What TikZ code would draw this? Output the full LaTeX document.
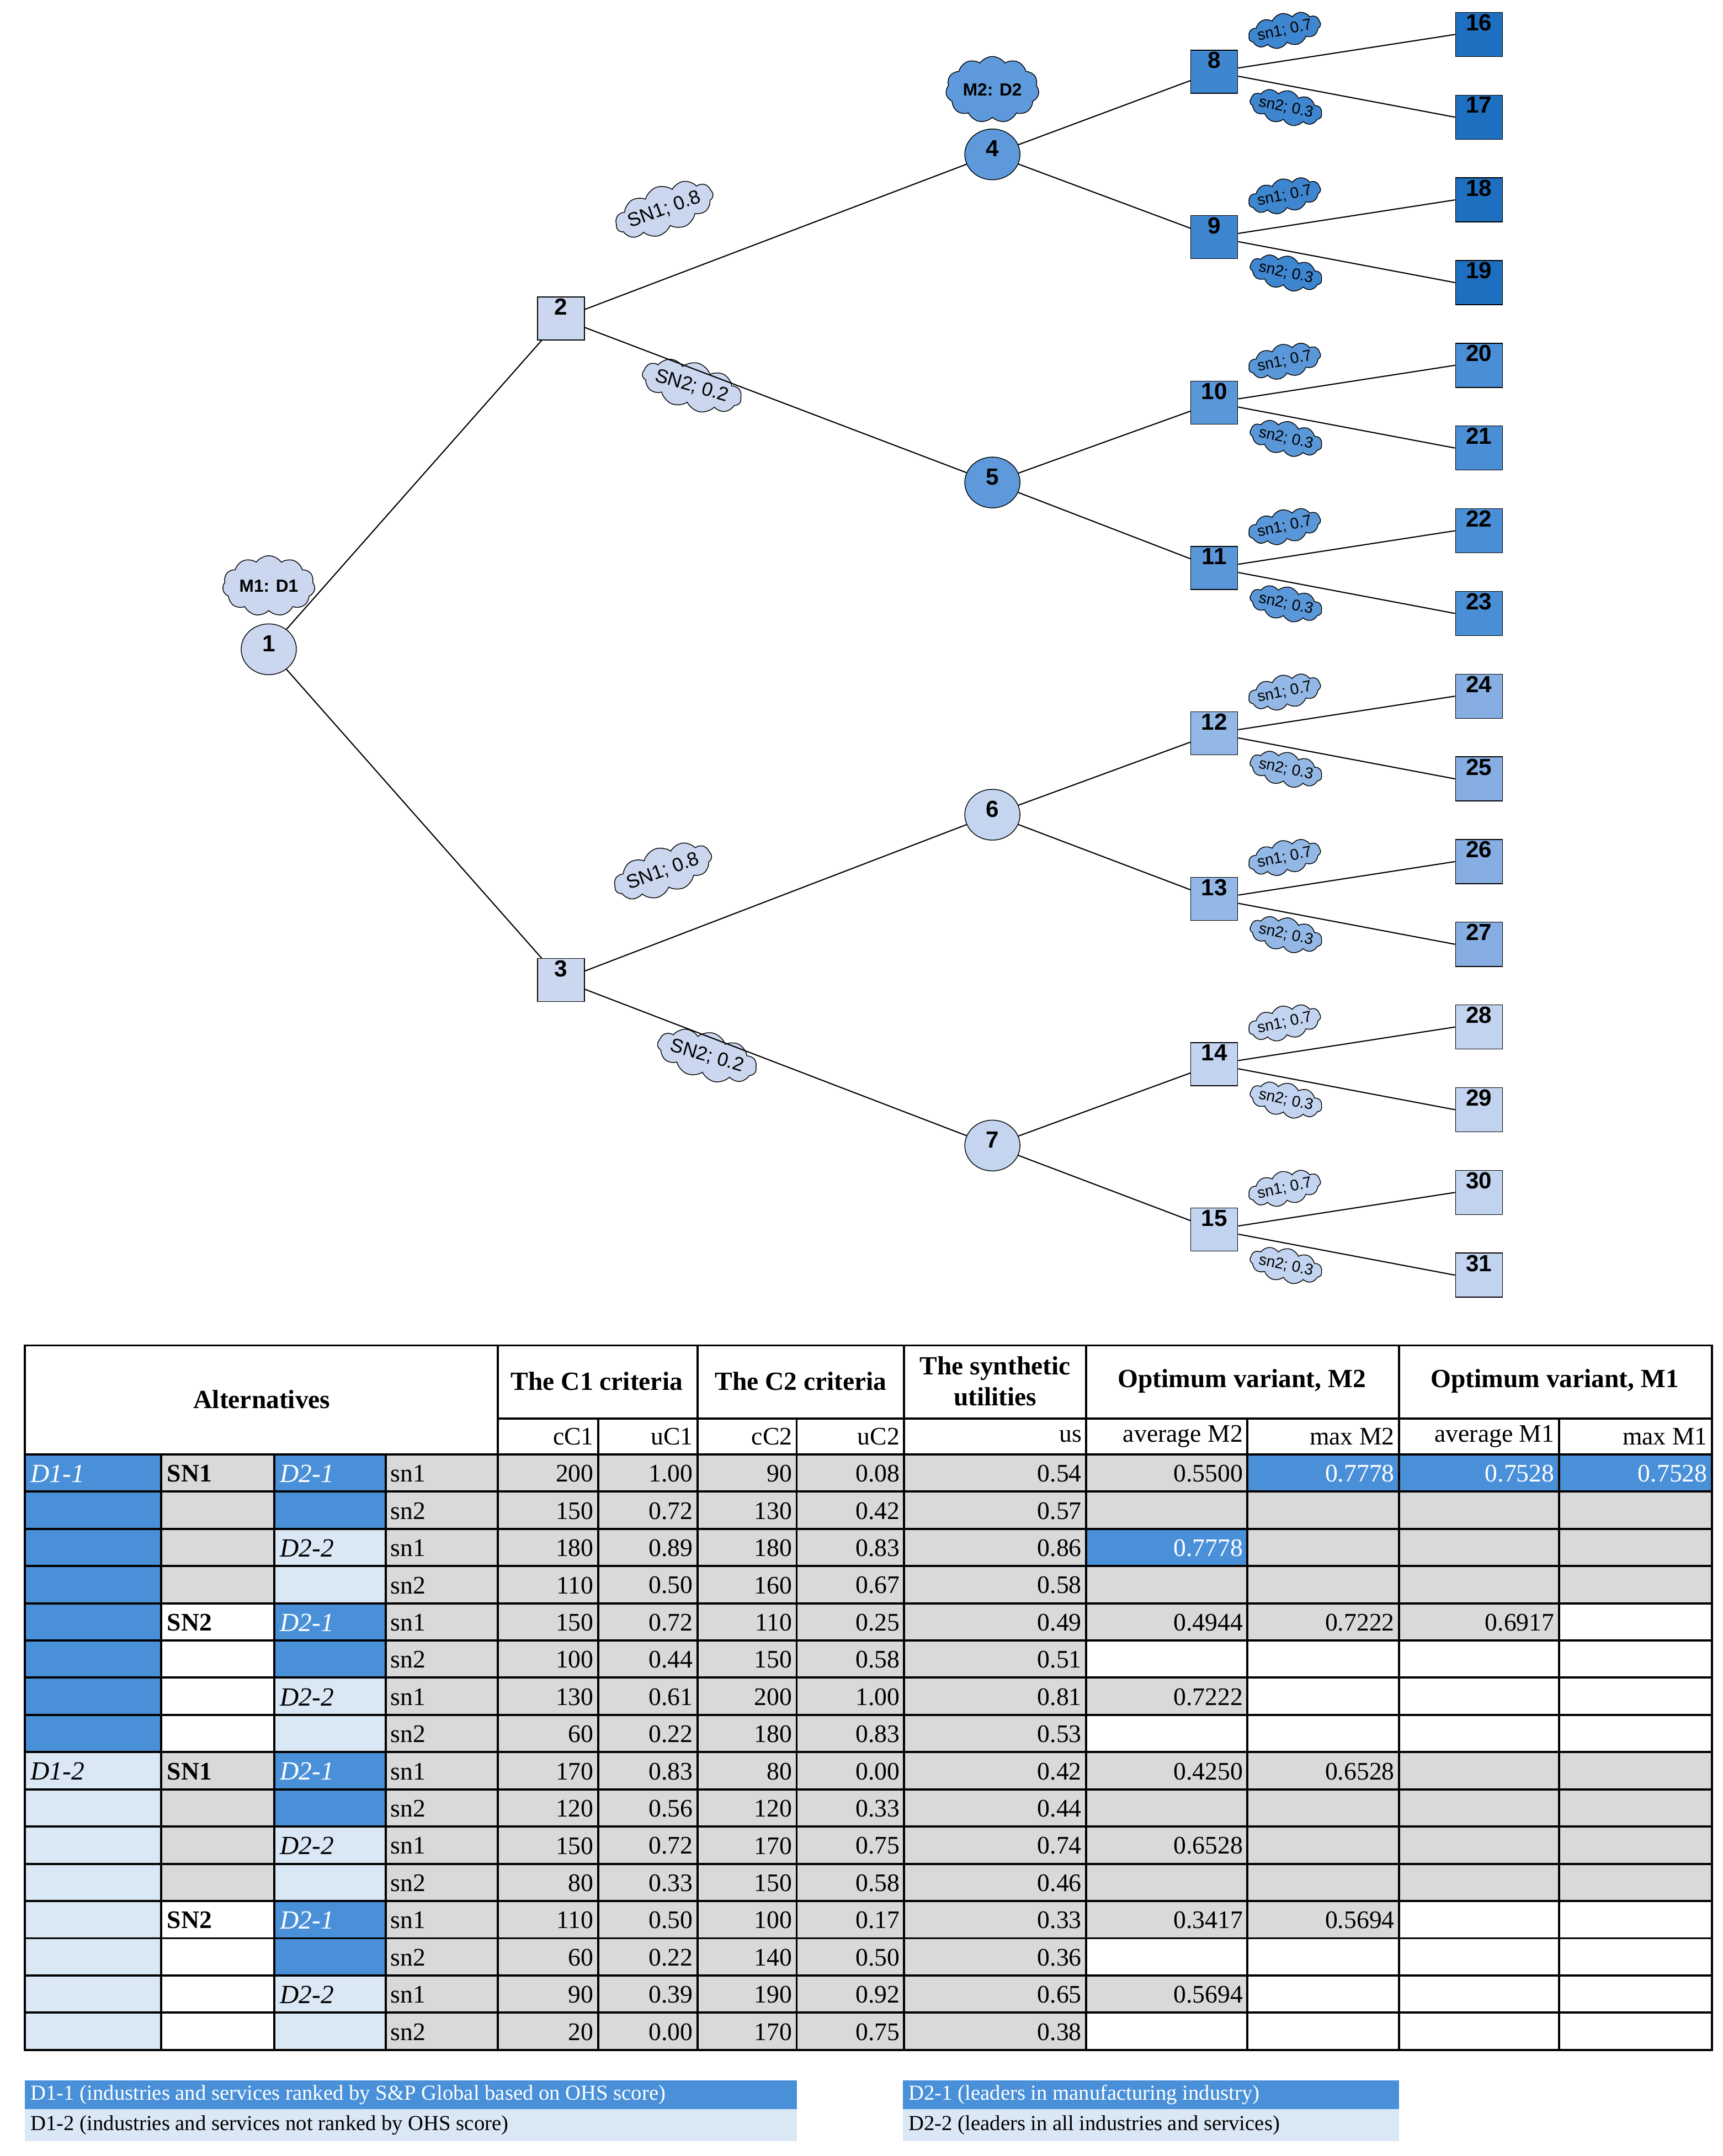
\documentclass[tikz,border=0pt]{standalone}
\usepackage{fontspec}
\setmainfont{Liberation Serif}
\newfontfamily\tsans{Liberation Sans}
\usetikzlibrary{shapes.geometric,shapes.symbols}
\definecolor{bA}{HTML}{4A90D9}
\definecolor{bL}{HTML}{DAE7F5}
\definecolor{gC}{HTML}{D9D9D9}
\definecolor{lv1}{HTML}{1F6FC0}
\definecolor{lv2}{HTML}{4A8ED6}
\definecolor{lv3}{HTML}{86AEE2}
\definecolor{lv4}{HTML}{C2D3EF}
\definecolor{sq1}{HTML}{3F86D0}
\definecolor{sq2}{HTML}{5A97D9}
\definecolor{sq3}{HTML}{93B8E6}
\definecolor{sq4}{HTML}{C3D4F0}
\definecolor{cirA}{HTML}{5E9ADB}
\definecolor{cirB}{HTML}{C5D5EF}
\definecolor{base}{HTML}{CBD7EF}
\tikzset{
 sq/.style={draw, thin, minimum width=0.85cm, minimum height=0.78cm, inner sep=0pt},
 lf/.style={draw, thin, minimum width=0.85cm, minimum height=0.8cm, inner sep=0pt},
 ci/.style={draw, thin, ellipse, minimum width=1.0cm, minimum height=0.92cm, inner sep=0pt},
 num/.style={font=\tsans\bfseries\fontsize{12}{12}\selectfont, anchor=north, inner sep=1pt},
 cl/.style={cloud, cloud puffs=11, cloud puff arc=110, aspect=3, draw, thin, inner sep=-1pt, font=\tsans\fontsize{8}{8}\selectfont},
 edge/.style={line width=0.6pt},
 tv/.style={anchor=east, inner sep=0pt, font=\fontsize{13}{13}\selectfont},
 tl/.style={anchor=west, inner sep=0pt, font=\fontsize{13}{13}\selectfont},
 th/.style={inner sep=0pt, font=\bfseries\fontsize{13.5}{16}\selectfont, align=center},
 it/.style={anchor=west, inner sep=0pt, font=\itshape\fontsize{13.5}{13.5}\selectfont},
 grid/.style={line width=1.1pt},
 lg/.style={anchor=west, inner sep=0pt, font=\fontsize{11}{11}\selectfont}
}
\begin{document}
\begin{tikzpicture}[x=0.02497cm,y=-0.02497cm]
\useasboundingbox (0,0) rectangle (1250,1564);
% ---------- tree ----------
\node[ci, fill=base] (n1) at (195,471) {}; \node[num] at (n1.north) [yshift=-5pt] {1};
\node[sq, fill=base] (n2) at (407,231) {}; \node[num] at (n2.north) {2};
\node[sq, fill=base] (n3) at (407,711) {}; \node[num] at (n3.north) {3};
\node[ci, fill=cirA] (n4) at (720,112) {}; \node[num] at (n4.north) [yshift=-5pt] {4};
\node[ci, fill=cirA] (n5) at (720,350) {}; \node[num] at (n5.north) [yshift=-5pt] {5};
\node[ci, fill=cirB] (n6) at (720,591) {}; \node[num] at (n6.north) [yshift=-5pt] {6};
\node[ci, fill=cirB] (n7) at (720,831) {}; \node[num] at (n7.north) [yshift=-5pt] {7};
\foreach \i/\c in {8/sq1,9/sq1,10/sq2,11/sq2,12/sq3,13/sq3,14/sq4,15/sq4}{
  \node[sq, fill=\c] (n\i) at (881,{52+120*(\i-8)}) {};
  \node[num] (t\i) at (n\i.north) {\i};
  \node[cl, fill=\c, rotate=12] (cu\i) at (932,{52+120*(\i-8)-30}) {sn1; 0.7};
  \node[cl, fill=\c, rotate=-12] (cd\i) at (933,{52+120*(\i-8)+26}) {sn2; 0.3};
}
\foreach \i/\c in {16/lv1,17/lv1,18/lv1,19/lv1,20/lv2,21/lv2,22/lv2,23/lv2,24/lv3,25/lv3,26/lv3,27/lv3,28/lv4,29/lv4,30/lv4,31/lv4}{
  \node[lf, fill=\c] (n\i) at (1073,{25+60*(\i-16)}) {};
  \node[num] (t\i) at (n\i.north) {\i};
}
\node[cl, fill=base, font=\tsans\bfseries\fontsize{9}{9}\selectfont, aspect=1.8, inner sep=1pt] (m1) at (195,425) {M1: D1};
\node[cl, fill=cirA, font=\tsans\bfseries\fontsize{9}{9}\selectfont, aspect=1.6, minimum height=0.8cm, inner sep=1pt] (m2) at (720,65) {M2: D2};
\node[cl, fill=base, rotate=20, font=\tsans\fontsize{10}{10}\selectfont] (s1) at (482,152) {SN1; 0.8};
\node[cl, fill=base, rotate=-16, font=\tsans\fontsize{10}{10}\selectfont] (s2) at (502,280) {SN2; 0.2};
\node[cl, fill=base, rotate=20, font=\tsans\fontsize{10}{10}\selectfont] (s3) at (481,632) {SN1; 0.8};
\node[cl, fill=base, rotate=-16, font=\tsans\fontsize{10}{10}\selectfont] (s4) at (513,766) {SN2; 0.2};
\draw[edge] (n1) -- (n2); \draw[edge] (n1) -- (n3);
\draw[edge] (n2) -- (n4); \draw[edge] (n2) -- (n5);
\draw[edge] (n3) -- (n6); \draw[edge] (n3) -- (n7);
\draw[edge] (n4) -- (n8); \draw[edge] (n4) -- (n9);
\draw[edge] (n5) -- (n10); \draw[edge] (n5) -- (n11);
\draw[edge] (n6) -- (n12); \draw[edge] (n6) -- (n13);
\draw[edge] (n7) -- (n14); \draw[edge] (n7) -- (n15);
\foreach \i [evaluate=\i as \a using int(2*\i), evaluate=\i as \b using int(2*\i+1)] in {8,...,15}{
  \draw[edge] (n\i) -- (n\a.west); \draw[edge] (n\i) -- (n\b.west);
}
% ---------- table fills ----------
\fill[gC] (280,1055) rectangle (788,1487);
\fill[gC] (117,1055) rectangle (199,1163);
\fill[gC] (117,1271) rectangle (199,1379);
\fill[gC] (788,1055) rectangle (1242,1163);
\fill[gC] (788,1271) rectangle (1242,1379);
\fill[gC] (788,1163) rectangle (1131,1190);
\fill[gC] (788,1217) rectangle (905,1244);
\fill[gC] (788,1379) rectangle (1015,1406);
\fill[gC] (788,1433) rectangle (905,1460);
\fill[bA] (905,1055) rectangle (1242,1082);
\fill[bA] (788,1109) rectangle (905,1136);
\fill[bA] (18,1055) rectangle (117,1271);
\fill[bL] (18,1271) rectangle (117,1487);
\foreach \g in {0,2,4,6}{
  \fill[bA] (199,{1055+54*\g}) rectangle (280,{1055+54*\g+54});
  \fill[bL] (199,{1055+54*\g+54}) rectangle (280,{1055+54*\g+108});
}
% ---------- grid ----------
\draw[grid] (18,976) rectangle (1242,1487);
\draw[grid] (361,1029) -- (1242,1029);
\foreach \k in {0,...,15}{ \draw[grid] (18,{1055+27*\k}) -- (1242,{1055+27*\k}); }
\foreach \x in {117,199,280}{ \draw[grid] (\x,1055) -- (\x,1487); }
\foreach \x in {361,506,656,788,1015}{ \draw[grid] (\x,976) -- (\x,1487); }
\foreach \x in {434,578,905,1131}{ \draw[grid] (\x,1029) -- (\x,1487); }
% ---------- headers ----------
\node[th] (hA) at (190,1015) {Alternatives};
\node[th] (hC1) at (433,1002) {The C1 criteria};
\node[th] (hC2) at (581,1002) {The C2 criteria};
\node[th] (hS) at (722,1002) {The synthetic\\utilities};
\node[th] (hM2) at (901,1002) {Optimum variant, M2};
\node[th] (hM1) at (1128,1002) {Optimum variant, M1};
\foreach \x/\t [count=\j] in {431/cC1,503/uC1,575/cC2,653/uC2,785/us,902/average M2,1012/max M2,1128/average M1,1239/max M1}{
  \node[tv] (sh\j) at (\x,1042) {\t};
}
% ---------- data ----------
\foreach \r/\a/\b/\c/\d/\e in {1/200/1.00/90/0.08/0.54,2/150/0.72/130/0.42/0.57,3/180/0.89/180/0.83/0.86,4/110/0.50/160/0.67/0.58,5/150/0.72/110/0.25/0.49,6/100/0.44/150/0.58/0.51,7/130/0.61/200/1.00/0.81,8/60/0.22/180/0.83/0.53,9/170/0.83/80/0.00/0.42,10/120/0.56/120/0.33/0.44,11/150/0.72/170/0.75/0.74,12/80/0.33/150/0.58/0.46,13/110/0.50/100/0.17/0.33,14/60/0.22/140/0.50/0.36,15/90/0.39/190/0.92/0.65,16/20/0.00/170/0.75/0.38}{
  \pgfmathsetmacro\yy{1055+27*(\r-1)+14}
  \node[tv] (a\r) at (431,\yy) {\a};
  \node[tv] (b\r) at (503,\yy) {\b};
  \node[tv] (c\r) at (575,\yy) {\c};
  \node[tv] (d\r) at (653,\yy) {\d};
  \node[tv] (e\r) at (785,\yy) {\e};
  \pgfmathtruncatemacro\odd{mod(\r,2)}
  \ifnum\odd=1 \node[tl] (s\r) at (283,\yy) {sn1}; \else \node[tl] (s\r) at (283,\yy) {sn2}; \fi
}
\node[tv] (o1a) at (902,1069) {0.5500};
\node[tv, text=white] (o1b) at (1012,1069) {0.7778};
\node[tv, text=white] (o1c) at (1128,1069) {0.7528};
\node[tv, text=white] (o1d) at (1239,1069) {0.7528};
\node[tv, text=white] (o3a) at (902,1123) {0.7778};
\node[tv] (o5a) at (902,1177) {0.4944};
\node[tv] (o5b) at (1012,1177) {0.7222};
\node[tv] (o5c) at (1128,1177) {0.6917};
\node[tv] (o7a) at (902,1231) {0.7222};
\node[tv] (o9a) at (902,1285) {0.4250};
\node[tv] (o9b) at (1012,1285) {0.6528};
\node[tv] (o11a) at (902,1339) {0.6528};
\node[tv] (o13a) at (902,1393) {0.3417};
\node[tv] (o13b) at (1012,1393) {0.5694};
\node[tv] (o15a) at (902,1447) {0.5694};
% alternatives labels
\node[it, text=white] (d11) at (22,1069) {D1-1};
\node[it] (d12) at (22,1285) {D1-2};
\foreach \r/\s in {1/SN1,5/SN2,9/SN1,13/SN2}{
  \node[tl, font=\bfseries\fontsize{13}{13}\selectfont] (sn\r) at (121,{1055+27*(\r-1)+14}) {\s};
}
\foreach \r in {1,5,9,13}{
  \node[it, text=white] (da\r) at (203,{1055+27*(\r-1)+14}) {D2-1};
}
\foreach \r in {3,7,11,15}{
  \node[it] (db\r) at (203,{1055+27*(\r-1)+14}) {D2-2};
}
% ---------- legend ----------
\fill[bA] (18,1509) rectangle (578,1530);
\fill[bL] (18,1530) rectangle (578,1553);
\fill[bA] (655,1509) rectangle (1015,1530);
\fill[bL] (655,1530) rectangle (1015,1553);
\node[lg, text=white] (l1) at (22,1519.5) {D1-1 (industries and services ranked by S\&P Global based on OHS score)};
\node[lg] (l2) at (22,1541.5) {D1-2 (industries and services not ranked by OHS score)};
\node[lg, text=white] (l3) at (659,1519.5) {D2-1 (leaders in manufacturing industry)};
\node[lg] (l4) at (659,1541.5) {D2-2 (leaders in all industries and services)};
\end{tikzpicture}
\end{document}
